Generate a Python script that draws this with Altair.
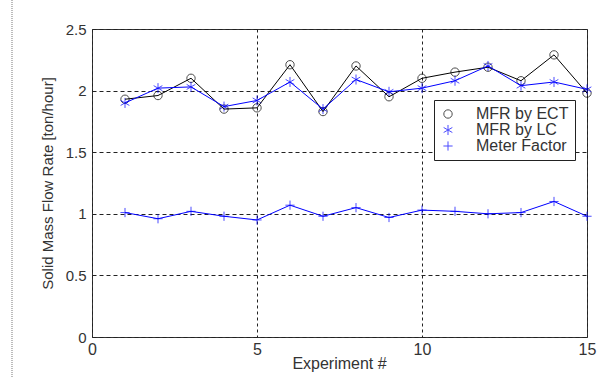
import altair as alt
import pandas as pd

experiments = list(range(1, 16))
mfr_ect = [1.93, 1.96, 2.10, 1.85, 1.86, 2.21, 1.83, 2.20, 1.95, 2.10, 2.15, 2.19, 2.08, 2.29, 1.98]
mfr_lc = [1.90, 2.02, 2.03, 1.87, 1.92, 2.07, 1.85, 2.09, 1.99, 2.02, 2.08, 2.20, 2.04, 2.07, 2.01]
meter_factor = [1.01, 0.96, 1.02, 0.98, 0.95, 1.07, 0.98, 1.05, 0.97, 1.03, 1.02, 1.00, 1.01, 1.10, 0.98]

series_names = ["MFR by ECT", "MFR by LC", "Meter Factor"]
series_colors = ["#000000", "#0000ff", "#0000ff"]
series_shapes = [
    "circle",
    "M0,-1.2L0,1.2M-1.04,-0.6L1.04,0.6M-1.04,0.6L1.04,-0.6",
    "M-1.1,0L1.1,0M0,-1.1L0,1.1",
]

rows = []
for name, vals in zip(series_names, [mfr_ect, mfr_lc, meter_factor]):
    for x, v in zip(experiments, vals):
        rows.append({"Experiment": x, "Value": v, "Series": name})
df = pd.DataFrame(rows)

FONT = "Liberation Sans"
TXT = "#333333"

x_enc = alt.X(
    "Experiment:Q",
    scale=alt.Scale(domain=[0, 15], nice=False, zero=False),
    axis=alt.Axis(
        values=[0, 5, 10, 15], title="Experiment #", format="d",
        grid=True, gridDash=[3, 3], gridColor="#222222", gridWidth=1,
        ticks=False, domain=False, labelPadding=4, labelFontSize=16,
        labelFlush=False,
        labelFont=FONT, labelColor=TXT, titleFont=FONT, titleFontSize=16,
        titleFontWeight="normal", titleColor=TXT, titleX=247, titleY=26,
        titleBaseline="middle", titleAlign="center",
    ),
)
y_enc = alt.Y(
    "Value:Q",
    scale=alt.Scale(domain=[0, 2.5], nice=False),
    axis=alt.Axis(
        values=[0, 0.5, 1, 1.5, 2, 2.5], format="~g", title="Solid Mass Flow Rate [ton/hour]",
        grid=True, gridDash=[4, 3], gridColor="#222222", gridWidth=1,
        ticks=False, domain=False, labelPadding=6, labelFontSize=15,
        labelFont=FONT, labelColor=TXT, titleFont=FONT, titleFontSize=15,
        titleFontWeight="normal", titleColor=TXT, titleX=-45, titleY=154,
        titleAngle=270, titleBaseline="middle", titleAlign="center",
    ),
)

legend = alt.Legend(
    title=None, orient="none", legendX=342, legendY=71,
    strokeColor="#222222", fillColor="white", padding=6,
    labelFont=FONT, labelFontSize=16, labelColor=TXT, labelLimit=300,
    labelOffset=20, rowPadding=0, symbolStrokeWidth=1,
    symbolSize=70, symbolFillColor="transparent",
)

color_scale = alt.Scale(domain=series_names, range=series_colors)
shape_scale = alt.Scale(domain=series_names, range=series_shapes)

points = alt.Chart(df).mark_point(filled=False, strokeWidth=1, size=70).encode(
    x=x_enc, y=y_enc,
    color=alt.Color("Series:N", scale=color_scale, legend=legend),
    shape=alt.Shape("Series:N", scale=shape_scale, legend=legend),
)

lines = alt.Chart(df).mark_line(strokeWidth=1).encode(
    x="Experiment:Q", y="Value:Q",
    color=alt.Color("Series:N", scale=color_scale, legend=legend),
    detail="Series:N",
)

border = alt.Chart(df).mark_rule(color="#bbbbbb", strokeDash=[1, 1], strokeWidth=1).encode(
    x=alt.value(-80), y=alt.value(-29), y2=alt.value(349)
)

chart = alt.layer(points, lines, border).properties(
    width=495, height=308,
    autosize=alt.AutoSizeParams(type="none"),
    padding={"left": 92, "top": 29, "right": 20, "bottom": 41},
    background="white",
).configure_view(stroke="#333333", strokeWidth=1)

chart.save("out.html", embed_options={"renderer": "svg", "actions": False})
